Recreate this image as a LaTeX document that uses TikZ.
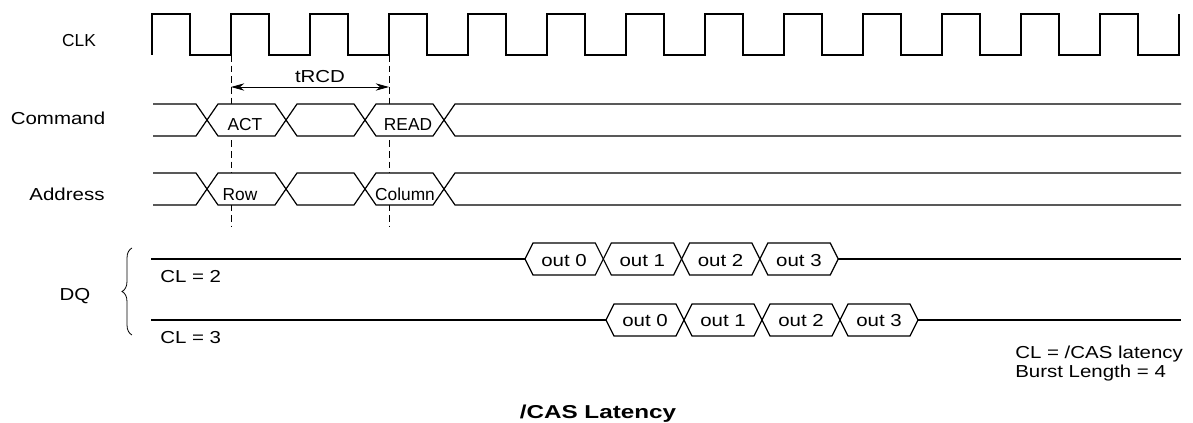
\documentclass[tikz,border=0pt]{standalone}
\usepackage{fontspec}
\setmainfont{Liberation Sans}[FakeStretch=1.18]
\newfontfamily\busfont{Liberation Sans}
\newfontfamily\capfont{Liberation Sans}[FakeStretch=1.3]
\usetikzlibrary{arrows.meta,decorations.pathreplacing}

\begin{document}
\begin{tikzpicture}[x=0.75pt, y=-0.75pt, >={Stealth[length=10pt,width=5.5pt]}]
	\tikzstyle{wave} = [line width=0.9pt, line join=miter]
	\tikzstyle{word} = [wave, fill=white]
	\tikzstyle{guide} = [line width=0.6pt, dash pattern=on 5pt off 3pt]
	\tikzstyle{lbl} = [inner sep=0pt, text height=9.4pt, text depth=0pt, font=\fontsize{13}{15}\selectfont]
	\tikzstyle{sig} = [lbl, font=\busfont\fontsize{13}{15}\selectfont]

	\useasboundingbox (0,0) rectangle (1193,423);

	% clock
	\draw[wave] (152,55) \foreach \k in {0,...,12} {-- ++(0,-41) -- ++(38,0) -- ++(0,41) -- ++(41,0)} -- ++(0,-41);

	% tRCD
	\coordinate (acttop) at (231,55);
	\coordinate (actbot) at (231,227);
	\coordinate (rdtop) at (389,55);
	\coordinate (rdbot) at (389,227);
	\coordinate (trcdl) at (231,87);
	\coordinate (trcdr) at (389,87);
	\draw[guide] (acttop) -- (actbot);
	\draw[guide] (rdtop) -- (rdbot);
	\draw[<->, line width=0.6pt] (trcdl) -- (trcdr);

	% command and address buses
	\foreach \y in {120,189} {
		\draw[wave] (153,\y-16) -- (196,\y-16) -- (207,\y) -- (196,\y+16) -- (153,\y+16);
		\foreach \a/\b in {207/286,286/365,365/444}
			\draw[word] (\a,\y) -- (\a+11,\y-16) -- (\b-11,\y-16) -- (\b,\y) -- (\b-11,\y+16) -- (\a+11,\y+16) -- cycle;
		\draw[wave] (1181,\y-16) -- (455,\y-16) -- (444,\y) -- (455,\y+16) -- (1181,\y+16);
	}

	% DQ bursts
	\draw[wave] (151,259) -- (525,259) (838.2,259) -- (1181,259);
	\draw[wave] (151,320) -- (606,320) (918,320) -- (1181,320);
	\foreach \i in {0,...,3} {
		\draw[word] ({525+78.3*\i},259) -- ++(8,-16) -- ++(62.3,0) -- ++(8,16) -- ++(-8,16) -- ++(-62.3,0) -- cycle;
		\draw[word] ({606+78*\i},320) -- ++(8,-16) -- ++(62,0) -- ++(8,16) -- ++(-8,16) -- ++(-62,0) -- cycle;
		\node[lbl] (cltwo\i) at ({564+78.3*\i},260.5) {out \i};
		\node[lbl] (clthree\i) at ({645+78*\i},320.5) {out \i};
	}

	% DQ brace
	\coordinate (brbot) at (132,335);
	\coordinate (brtop) at (132,248);
	\draw[decorate, decoration={brace, amplitude=7.5pt}, line width=0.6pt] (brbot) -- (brtop);

	\path
	node[sig] (clk) at (79,40) {CLK}
	node[lbl] (cmd) at (58,118) {Command}
	node[lbl] (addr) at (67,194) {Address}
	node[lbl] (dq) at (75,294) {DQ}
	node[lbl] (trcd) at (320,76) {tRCD}
	node[sig] (act) at (245,124) {ACT}
	node[sig] (rd) at (408,124) {READ}
	node[sig] (row) at (240,194) {Row}
	node[sig] (col) at (405,194) {Column}
	node[lbl, anchor=west] (cltwo) at (160,276.5) {CL = 2}
	node[lbl, anchor=west] (clthree) at (160,337.5) {CL = 3}
	node[lbl, anchor=west] (note1) at (1015,352) {CL = /CAS latency}
	node[lbl, anchor=west] (note2) at (1015,371) {Burst Length = 4}
	node[lbl, font=\capfont\bfseries\fontsize{14}{16}\selectfont, text height=10.1pt] (title) at (598,411.5) {/CAS Latency};
\end{tikzpicture}
\end{document}
